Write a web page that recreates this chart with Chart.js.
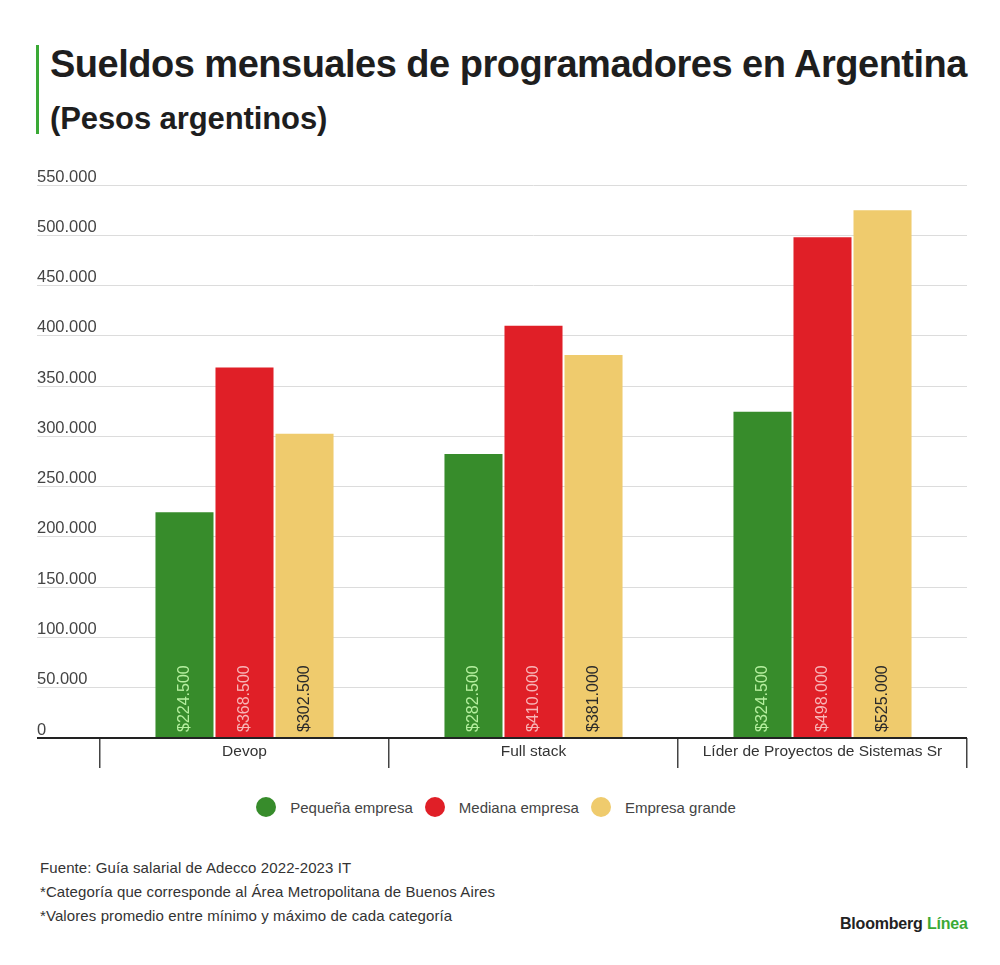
<!DOCTYPE html>
<html lang="es">
<head>
<meta charset="utf-8">
<script src="https://cdn.jsdelivr.net/npm/chart.js@4.4.1/dist/chart.umd.min.js"></script>
<style>
  html, body { margin: 0; padding: 0; background: #fff; }
  body { width: 1000px; height: 965px; position: relative; overflow: hidden; font-family: "Liberation Sans", Arial, sans-serif; color: #222; }
  .bar-accent { position: absolute; left: 36px; top: 45px; width: 3px; height: 89px; background: #3aa935; }
  h1 { position: absolute; left: 50px; top: 43px; margin: 0; font-size: 38px; font-weight: 700; letter-spacing: -0.5px; color: #1e1e1e; white-space: nowrap; }
  h2 { position: absolute; left: 50px; top: 101px; margin: 0; font-size: 31px; font-weight: 700; letter-spacing: -0.1px; color: #1e1e1e; white-space: nowrap; }
  #wrap { position: absolute; left: 0; top: 150px; width: 1000px; height: 640px; }
  .legend { position: absolute; top: 797px; left: -4px; width: 1000px; display: flex; justify-content: center; font-size: 15px; color: #444; }
  .legend span.item { display: flex; align-items: center; margin: 0 6px; }
  .legend i { display: inline-block; width: 20px; height: 20px; border-radius: 50%; margin-right: 14px; }
  .notes { position: absolute; left: 40px; top: 856px; font-size: 15px; color: #333; line-height: 24px; letter-spacing: 0.1px; }
  .brand { position: absolute; left: 840px; top: 915px; font-size: 16px; font-weight: 700; color: #222; letter-spacing: -0.2px; }
  .brand b { color: #3aa935; font-weight: 700; }
</style>
</head>
<body>
<div class="bar-accent"></div>
<h1>Sueldos mensuales de programadores en Argentina</h1>
<h2>(Pesos argentinos)</h2>
<div id="wrap"><canvas id="chart"></canvas></div>
<div class="legend" id="legend"></div>
<div class="notes">
  Fuente: Guía salarial de Adecco 2022-2023 IT<br>
  *Categoría que corresponde al Área Metropolitana de Buenos Aires<br>
  *Valores promedio entre mínimo y máximo de cada categoría
</div>
<div class="brand">Bloomberg <b>Línea</b></div>
<script>
const categories = ['Devop', 'Full stack', 'Líder de Proyectos de Sistemas Sr'];
const seriesNames = ['Pequeña empresa', 'Mediana empresa', 'Empresa grande'];
const pequena = [224500, 282500, 324500];
const mediana = [368500, 410000, 498000];
const grande = [302500, 381000, 525000];
const barColors = ['#378c2b', '#e01f27', '#efcb6d'];
const labelColors = ['#b6ef9f', '#f8b5b7', '#2a2a2a'];

const fmt = v => v.toLocaleString('de-DE');

// legend
document.getElementById('legend').innerHTML = seriesNames.map((n, i) =>
  `<span class="item"><i style="background:${barColors[i]}"></i>${n}</span>`).join('');

// vertical value labels inside bars, at the base
const barLabels = {
  id: 'barLabels',
  afterDatasetsDraw(chart) {
    const ctx = chart.ctx;
    chart.data.datasets.forEach((ds, di) => {
      chart.getDatasetMeta(di).data.forEach((bar, i) => {
        ctx.save();
        ctx.translate(bar.x, bar.base - 5);
        ctx.rotate(-Math.PI / 2);
        ctx.font = '16px "Liberation Sans", Arial, sans-serif';
        ctx.fillStyle = labelColors[di];
        ctx.textAlign = 'left';
        ctx.textBaseline = 'middle';
        ctx.fillText('$' + fmt(ds.data[i]), 0, 0);
        ctx.restore();
      });
    });
  }
};

new Chart(document.getElementById('chart'), {
  type: 'bar',
  data: {
    labels: categories,
    datasets: [pequena, mediana, grande].map((d, i) => ({
      label: seriesNames[i],
      data: d,
      backgroundColor: barColors[i],
      borderWidth: 0,
      categoryPercentage: 0.623,
      barPercentage: 0.967,
    })),
  },
  options: {
    responsive: true,
    maintainAspectRatio: false,
    animation: false,
    layout: { padding: { top: 35, left: 37, right: 33, bottom: 0 } },
    plugins: {
      legend: { display: false },
      tooltip: { enabled: false },
    },
    scales: {
      x: {
        border: { display: false },
        grid: {
          offset: true,
          drawOnChartArea: false,
          drawTicks: true,
          tickLength: 30,
          color: '#444',
          lineWidth: 1.5,
        },
        ticks: {
          padding: -26,
          color: '#333',
          font: { family: '"Liberation Sans", Arial, sans-serif', size: 15.5 },
          maxRotation: 0,
        },
        afterFit(scale) { scale.height = 52; },
      },
      y: {
        min: 0,
        max: 550000,
        border: { display: false },
        grid: {
          tickLength: 63,
          color: c => c.tick && c.tick.value === 0 ? '#222' : '#dcdcdc',
          lineWidth: c => c.tick && c.tick.value === 0 ? 2 : 1,
        },
        ticks: {
          stepSize: 50000,
          crossAlign: 'far',
          padding: 0,
          labelOffset: -8,
          color: '#444',
          font: { family: '"Liberation Sans", Arial, sans-serif', size: 16.5 },
          callback: v => fmt(v),
        },
        afterFit(scale) { scale.width = 63; },
      },
    },
  },
  plugins: [barLabels],
});
</script>
</body>
</html>
